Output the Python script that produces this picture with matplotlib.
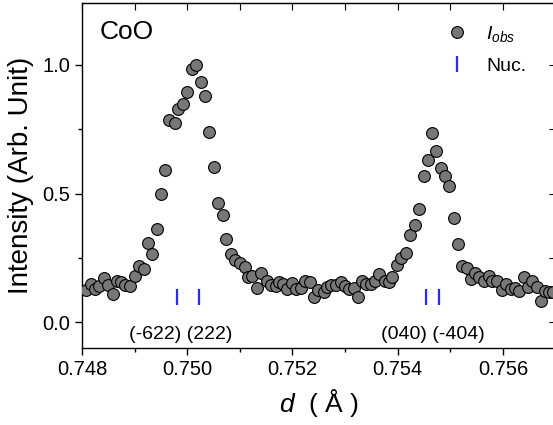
import matplotlib
matplotlib.use("Agg")
import matplotlib.pyplot as plt
import numpy as np
from matplotlib.ticker import MultipleLocator

plt.rcParams['font.family'] = ['Liberation Sans', 'DejaVu Sans']
plt.rcParams['mathtext.fontset'] = 'custom'
plt.rcParams['mathtext.rm'] = 'Liberation Sans'
plt.rcParams['mathtext.it'] = 'Liberation Sans:italic'

# observed intensity vs d-spacing
d_obs = [0.74808, 0.74817, 0.74825, 0.74833, 0.74842, 0.74850, 0.74858, 0.74867,
         0.74875, 0.74882, 0.74892, 0.74900, 0.74909, 0.74918, 0.74925, 0.74933,
         0.74943, 0.74950, 0.74958, 0.74966, 0.74976, 0.74983, 0.74992, 0.75000,
         0.75009, 0.75017, 0.75026, 0.75033, 0.75041, 0.75050, 0.75058, 0.75067,
         0.75074, 0.75084, 0.75090, 0.75100, 0.75109, 0.75116, 0.75124, 0.75133,
         0.75141, 0.75151, 0.75160, 0.75168, 0.75175, 0.75182, 0.75190, 0.75199,
         0.75207, 0.75216, 0.75224, 0.75233, 0.75240, 0.75249, 0.75259, 0.75266,
         0.75274, 0.75282, 0.75292, 0.75299, 0.75308, 0.75316, 0.75324, 0.75332,
         0.75340, 0.75349, 0.75356, 0.75365, 0.75375, 0.75383, 0.75390, 0.75399,
         0.75407, 0.75415, 0.75423, 0.75432, 0.75440, 0.75449, 0.75457, 0.75465,
         0.75473, 0.75482, 0.75490, 0.75498, 0.75507, 0.75515, 0.75522, 0.75531,
         0.75539, 0.75547, 0.75555, 0.75564, 0.75573, 0.75580, 0.75589, 0.75598,
         0.75606, 0.75615, 0.75623, 0.75631, 0.75640, 0.75648, 0.75656, 0.75664,
         0.75673, 0.75680, 0.75688, 0.75695]
I_obs = [0.127, 0.150, 0.129, 0.139, 0.171, 0.146, 0.108, 0.161,
         0.155, 0.143, 0.140, 0.181, 0.217, 0.206, 0.308, 0.264,
         0.361, 0.500, 0.591, 0.785, 0.772, 0.828, 0.848, 0.895,
         0.983, 0.999, 0.934, 0.878, 0.739, 0.604, 0.462, 0.418,
         0.323, 0.266, 0.240, 0.232, 0.214, 0.174, 0.181, 0.132,
         0.191, 0.160, 0.144, 0.141, 0.156, 0.147, 0.130, 0.152,
         0.130, 0.134, 0.162, 0.155, 0.097, 0.126, 0.117, 0.136,
         0.143, 0.143, 0.156, 0.139, 0.130, 0.134, 0.097, 0.162,
         0.150, 0.150, 0.159, 0.189, 0.162, 0.156, 0.175, 0.221,
         0.249, 0.269, 0.337, 0.378, 0.440, 0.570, 0.630, 0.737,
         0.666, 0.598, 0.568, 0.529, 0.404, 0.303, 0.219, 0.209,
         0.168, 0.191, 0.175, 0.160, 0.181, 0.160, 0.162, 0.126,
         0.150, 0.130, 0.134, 0.120, 0.175, 0.136, 0.160, 0.136,
         0.082, 0.123, 0.117, 0.117]

# nuclear reflection positions and labels
d_nuc = [0.74980, 0.75023, 0.75454, 0.75478]
nuc_y = 0.10
hkl_labels = ['(-622) (222)', '(040) (-404)']
hkl_x = [0.74988, 0.75466]
hkl_y = -0.046

fig = plt.figure(figsize=(5.53, 4.25), dpi=100)
ax = fig.add_axes([82/553, 77/425, 473.6/553, 345/425])

ax.plot(d_obs, I_obs, 'o', ms=8.5, mfc='#777777', mec='black', mew=0.8,
        label='$I_{obs}$', zorder=3)
ax.plot(d_nuc, [nuc_y]*len(d_nuc), '|', ms=11, mew=1.6, color='#2a2aff',
        label='Nuc.', zorder=2)

for lab, xx in zip(hkl_labels, hkl_x):
    ax.text(xx, hkl_y, lab, ha='center', va='center', fontsize=14)

ax.text(0.038, 0.915, 'CoO', transform=ax.transAxes, fontsize=19,
        ha='left', va='center')

ax.set_xlim(0.748, 0.757)
ax.set_ylim(-0.1, 1.24)
ax.xaxis.set_major_locator(MultipleLocator(0.002))
ax.xaxis.set_minor_locator(MultipleLocator(0.001))
ax.yaxis.set_major_locator(MultipleLocator(0.5))
ax.yaxis.set_minor_locator(MultipleLocator(0.25))
ax.xaxis.set_major_formatter(plt.FormatStrFormatter('%.3f'))
ax.yaxis.set_major_formatter(plt.FormatStrFormatter('%.1f'))
ax.tick_params(which='both', direction='out', labelsize=14.5, width=1)
ax.tick_params(which='major', length=5)
ax.tick_params(which='minor', length=3)
for sp in ax.spines.values():
    sp.set_linewidth(1)

# top and right ticks point inward
top = ax.secondary_xaxis('top')
top.xaxis.set_major_locator(MultipleLocator(0.001))
top.tick_params(direction='in', length=5, labeltop=False)
right = ax.secondary_yaxis('right')
right.yaxis.set_major_locator(MultipleLocator(0.25))
right.tick_params(direction='in', length=5, labelright=False)

ax.set_xlabel('$d$  ( Å )', fontsize=19, labelpad=6)
ax.set_ylabel('Intensity (Arb. Unit)', fontsize=20, labelpad=6)

ax.legend(loc='upper left', bbox_to_anchor=(0.73, 0.99), frameon=False,
          fontsize=14, handletextpad=0.9, labelspacing=0.7,
          handlelength=1.2)

fig.savefig('out.png', dpi=100)
